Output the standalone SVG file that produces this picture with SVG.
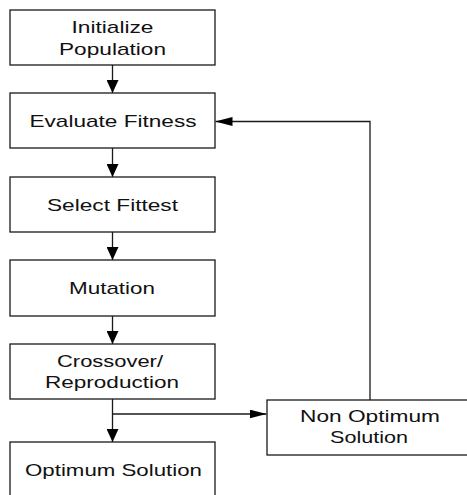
<svg xmlns="http://www.w3.org/2000/svg" width="467" height="495" viewBox="0 0 467 495">
<style>
.box{fill:#fff;stroke:#1a1a1a;stroke-width:1.3}
.lbl{font-family:"Liberation Sans",Arial,sans-serif;font-size:17px;fill:#111;text-anchor:middle}
.ln{fill:none;stroke:#1a1a1a;stroke-width:1.3}
</style>
<defs>
<marker id="av" markerUnits="userSpaceOnUse" markerWidth="13" markerHeight="12" refX="13" refY="6" orient="auto"><path d="M0,0 L13,6 L0,12 z" fill="#000"/></marker>
<marker id="ah" markerUnits="userSpaceOnUse" markerWidth="17" markerHeight="9" refX="17" refY="4.5" orient="auto"><path d="M0,0 L17,4.5 L0,9 z" fill="#000"/></marker>
</defs>
<rect width="467" height="495" fill="#fff"/>
<g id="connectors">
<path class="ln" d="M112.5,65 V93" marker-end="url(#av)"/>
<path class="ln" d="M112.5,148 V177" marker-end="url(#av)"/>
<path class="ln" d="M112.5,232 V260" marker-end="url(#av)"/>
<path class="ln" d="M112.5,316 V344" marker-end="url(#av)"/>
<path class="ln" d="M112.5,399 V442" marker-end="url(#av)"/>
<path class="ln" d="M112.5,414 H266.5" marker-end="url(#ah)"/>
<path class="ln" d="M370,400 V121.5 H215.5" marker-end="url(#ah)"/>
</g>
<g id="initialize">
<rect class="box" x="10" y="10" width="205" height="55"/>
<text class="lbl" x="112.5" y="33" textLength="82" lengthAdjust="spacingAndGlyphs">Initialize</text>
<text class="lbl" x="112.5" y="55" textLength="107" lengthAdjust="spacingAndGlyphs">Population</text>
</g>
<g id="evaluate">
<rect class="box" x="10" y="93" width="205" height="55"/>
<text class="lbl" x="113" y="127" textLength="167" lengthAdjust="spacingAndGlyphs">Evaluate Fitness</text>
</g>
<g id="select">
<rect class="box" x="10" y="177" width="205" height="55"/>
<text class="lbl" x="112.5" y="211" textLength="131" lengthAdjust="spacingAndGlyphs">Select Fittest</text>
</g>
<g id="mutation">
<rect class="box" x="10" y="260" width="205" height="56"/>
<text class="lbl" x="112" y="294" textLength="86" lengthAdjust="spacingAndGlyphs">Mutation</text>
</g>
<g id="crossover">
<rect class="box" x="10" y="344" width="205" height="55"/>
<text class="lbl" x="110" y="367" textLength="106" lengthAdjust="spacingAndGlyphs">Crossover/</text>
<text class="lbl" x="112" y="388" textLength="134" lengthAdjust="spacingAndGlyphs">Reproduction</text>
</g>
<g id="optimum">
<rect class="box" x="10" y="442" width="205" height="60"/>
<text class="lbl" x="113.5" y="476" textLength="177" lengthAdjust="spacingAndGlyphs">Optimum Solution</text>
</g>
<g id="nonoptimum">
<rect class="box" x="267" y="400" width="205" height="55"/>
<text class="lbl" x="370" y="422" textLength="140" lengthAdjust="spacingAndGlyphs">Non Optimum</text>
<text class="lbl" x="369" y="443" textLength="78" lengthAdjust="spacingAndGlyphs">Solution</text>
</g>
</svg>
